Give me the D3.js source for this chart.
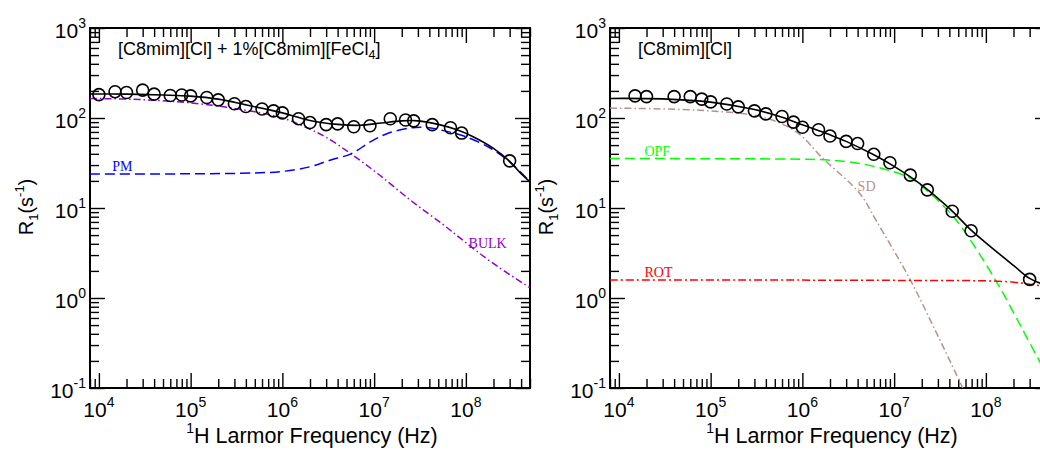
<!DOCTYPE html>
<html>
<head>
<meta charset="utf-8">
<script src="https://cdn.jsdelivr.net/npm/d3@7"></script>
<style>
  body { margin: 0; background: #fff; }
  svg text { font-family: "Liberation Sans", Arial, Helvetica, sans-serif; }
</style>
</head>
<body>
<div id="chart"></div>
<script>
// ---- data ----

// axes
const xDomain = [8e3, 5e8]
const yDomain = [0.1, 1000]
const xMajor = [1e4, 1e5, 1e6, 1e7, 1e8]
const yMajor = [0.1, 1, 10, 100, 1000]

// left panel: [C8mim][Cl] + 1%[C8mim][FeCl4]
const leftFreq = [1e4, 1.5e4, 2e4, 3e4, 4e4, 6e4, 8e4, 1e5, 1.5e5, 2e5, 3e5, 4e5, 6e5, 8e5,
  1e6, 1.5e6, 2e6, 3e6, 4e6, 6e6, 9e6, 1.5e7, 2.2e7, 2.7e7, 4.3e7, 6.8e7, 9e7, 3e8]
const leftR1 = [182, 196, 192, 204, 184, 178, 180, 176, 169, 159, 144, 134, 126, 120,
  114, 98, 89, 84.5, 86, 80, 82, 98, 95, 93, 84.5, 78, 68, 33.4]

const leftFit = [[8e3, 185], [2e4, 184], [5e4, 180], [1e5, 175], [2e5, 162], [4e5, 140], [7e5, 124],
  [1e6, 114], [2e6, 94], [4e6, 85], [7e6, 83], [1.2e7, 88], [2e7, 93], [3e7, 93], [5e7, 85],
  [8e7, 74], [1.2e8, 62], [2e8, 46], [3e8, 33], [4e8, 24], [5e8, 19.5]]
const leftPM = [[8e3, 23.8], [1e5, 24], [5e5, 24.5], [1e6, 25.5], [2e6, 28.7], [3.3e6, 34], [5.6e6, 40],
  [9.3e6, 55], [1.44e7, 68], [2.6e7, 78], [3.7e7, 78.5], [6.2e7, 71], [9.5e7, 63], [1.8e8, 47],
  [3e8, 32.6], [5e8, 19.6]]
const leftBulk = [[8e3, 165], [3e4, 160], [1e5, 147], [3e5, 128], [1e6, 100], [2e6, 75], [3e6, 61],
  [5.6e6, 40], [1.1e7, 24], [2.6e7, 11.8], [5.7e7, 6.5], [9.5e7, 4.3], [1.9e8, 2.5], [5e8, 1.3]]

// right panel: [C8mim][Cl]
const rightFreq = [1.5e4, 2e4, 4e4, 6e4, 8e4, 1e5, 1.5e5, 2e5, 3e5, 4e5, 6e5, 8e5, 1e6, 1.5e6,
  2e6, 3e6, 4e6, 6e6, 9e6, 1.5e7, 2.3e7, 4.3e7, 6.9e7, 3e8]
const rightR1 = [176, 173, 173, 173, 162, 151, 143, 133, 120, 111, 104, 90, 79, 74,
  63, 55, 52, 39.5, 31.8, 23.2, 15.9, 9.2, 5.58, 1.61]

const rightFit = [[8e3, 165], [3e4, 163], [1e5, 150], [3e5, 124], [6e5, 102], [1e6, 84], [2e6, 65],
  [3e6, 55], [6e6, 39], [1e7, 29], [2e7, 18], [4e7, 9.9], [7e7, 5.6], [1e8, 4.1], [2e8, 2.3],
  [3e8, 1.65], [4e8, 1.45], [5e8, 1.38]]
const rightOPF = [[8e3, 35.4], [1e5, 35.3], [1e6, 34.8], [2e6, 34], [4.4e6, 31], [9e6, 26], [1.5e7, 21.5],
  [2.3e7, 15.5], [4.3e7, 8.3], [6e7, 5.3], [1.28e8, 1.57], [2.5e8, 0.45], [4.3e8, 0.16], [5e8, 0.12]]
const rightSD = [[8e3, 129], [1e5, 120], [3.7e5, 102], [8.6e5, 70], [1.68e6, 35.4], [4.2e6, 14.6],
  [6.4e6, 7.2], [1.48e7, 1.63], [3e7, 0.38], [5.6e7, 0.1]]
const rightROT = [[8e3, 1.58], [1e6, 1.58], [1e7, 1.57], [1e8, 1.55], [2e8, 1.5], [3e8, 1.42],
  [4e8, 1.37], [5e8, 1.33]]

// ---- layout ----
const panelW = 440
const panelH = 360
const marginTop = 28

const svg = d3.select("#chart")
  .append("svg")
    .attr("width", 1040)
    .attr("height", 450)

const minorX = []
for (let e = 3; e <= 8; e++) for (let m = 2; m <= 9; m++) {
  const v = m * Math.pow(10, e)
  if (v >= xDomain[0] && v <= xDomain[1]) minorX.push(v)
}
const minorY = []
for (let e = -1; e <= 2; e++) for (let m = 2; m <= 9; m++) minorY.push(m * Math.pow(10, e))

function powerLabel(sel, size, supSize) {
  sel.each(function (d) {
    const t = d3.select(this).attr("font-size", size)
    t.append("tspan").text("10")
    t.append("tspan").attr("dy", -10).attr("font-size", supSize).text(Math.round(Math.log10(d)))
  })
}

function drawPanel(id, left, title, titleSub, points, curves, labels) {
  const g = svg.append("g").attr("transform", `translate(${left},${marginTop})`)

  const x = d3.scaleLog().domain(xDomain).range([0, panelW])
  const y = d3.scaleLog().domain(yDomain).range([panelH, 0])

  g.append("clipPath").attr("id", "clip" + id)
    .append("rect").attr("width", panelW).attr("height", panelH)

  // ticks, all pointing inward
  const axes = [
    [d3.axisBottom(x), `translate(0,${panelH})`, minorX, xMajor],
    [d3.axisTop(x), null, minorX, xMajor],
    [d3.axisLeft(y), null, minorY, yMajor],
    [d3.axisRight(y), `translate(${panelW},0)`, minorY, yMajor]
  ]
  axes.forEach(([ax, tr, minor, major]) => {
    const a1 = g.append("g").call(ax.tickValues(minor).tickSize(-9).tickFormat(""))
    const a2 = g.append("g").call(ax.tickValues(major).tickSize(-15).tickFormat(""))
    ;[a1, a2].forEach(a => {
      if (tr) a.attr("transform", tr)
      a.select(".domain").remove()
      a.selectAll("line").attr("stroke", "#000").attr("stroke-width", 1.4)
    })
  })

  g.append("rect")
    .attr("width", panelW).attr("height", panelH)
    .attr("fill", "none").attr("stroke", "#000").attr("stroke-width", 2)

  // tick labels
  g.selectAll(".xlab").data(xMajor).join("text")
    .attr("x", d => x(d)).attr("y", panelH + 29)
    .attr("text-anchor", "middle")
    .call(powerLabel, 21, 14)
  g.selectAll(".ylab").data(yMajor).join("text")
    .attr("x", -4).attr("y", d => y(d) + 10)
    .attr("text-anchor", "end")
    .call(powerLabel, 21, 14)

  // axis titles
  const xt = g.append("text")
    .attr("x", panelW / 2 + 2).attr("y", panelH + 55)
    .attr("text-anchor", "middle").attr("font-size", 21.5)
  xt.append("tspan").attr("font-size", 14).attr("dy", -10).text("1")
  xt.append("tspan").attr("dy", 10).text("H Larmor Frequency (Hz)")

  const yt = g.append("text")
    .attr("transform", `translate(-57,${panelH / 2 - 1}) rotate(-90)`)
    .attr("text-anchor", "middle").attr("font-size", 20)
  yt.append("tspan").text("R")
  yt.append("tspan").attr("font-size", 13).attr("dy", 5).text("1")
  yt.append("tspan").attr("dy", -5).text("(s")
  yt.append("tspan").attr("font-size", 13).attr("dy", -9).text("-1")
  yt.append("tspan").attr("dy", 9).text(")")

  // sample name
  const st = g.append("text").attr("x", 28).attr("y", 27).attr("font-size", 18)
  st.append("tspan").text(title)
  if (titleSub) {
    st.append("tspan").attr("font-size", 12.5).attr("dy", 4).text(titleSub)
    st.append("tspan").attr("dy", -4).text("]")
  }

  // curves
  const line = d3.line()
    .x(d => x(d[0]))
    .y(d => y(d[1]))
    .curve(d3.curveCatmullRom.alpha(0.5))

  const plot = g.append("g").attr("clip-path", `url(#clip${id})`)
  curves.forEach(c => {
    plot.append("path")
      .attr("d", line(c.data))
      .attr("fill", "none")
      .attr("stroke", c.color)
      .attr("stroke-width", c.width || 1.5)
      .attr("stroke-dasharray", c.dash || null)
  })

  plot.selectAll("circle")
    .data(points)
    .join("circle")
      .attr("cx", d => x(d[0]))
      .attr("cy", d => y(d[1]))
      .attr("r", 6)
      .attr("fill", "none")
      .attr("stroke", "#000")
      .attr("stroke-width", 1.6)

  labels.forEach(l => {
    g.append("text")
      .attr("x", x(l.f)).attr("y", y(l.r))
      .attr("fill", l.color)
      .style("font-family", "'Liberation Serif', 'Times New Roman', serif")
      .attr("font-size", 14)
      .text(l.text)
  })
}

drawPanel("L", 90, "[C8mim][Cl] + 1%[C8mim][FeCl", "4",
  leftFreq.map((f, i) => [f, leftR1[i]]),
  [
    { data: leftBulk, color: "#9400D3", dash: "7,3,1.5,3" },
    { data: leftPM, color: "#0000FF", dash: "10,5" },
    { data: leftFit, color: "#000", width: 1.6 }
  ],
  [
    { text: "PM", f: 1.4e4, r: 25.5, color: "#0000FF" },
    { text: "BULK", f: 1.07e8, r: 3.55, color: "#9400D3" }
  ])

drawPanel("R", 610, "[C8mim][Cl]", null,
  rightFreq.map((f, i) => [f, rightR1[i]]),
  [
    { data: rightSD, color: "#BC8F8F", dash: "7,3,1.5,3" },
    { data: rightOPF, color: "#00FF00", dash: "10,5" },
    { data: rightROT, color: "#FF0000", dash: "8,3,2,3" },
    { data: rightFit, color: "#000", width: 1.6 }
  ],
  [
    { text: "OPF", f: 1.9e4, r: 38, color: "#00FF00" },
    { text: "SD", f: 4.0e6, r: 15.3, color: "#BC8F8F" },
    { text: "ROT", f: 1.9e4, r: 1.7, color: "#FF0000" }
  ])
</script>
</body>
</html>
